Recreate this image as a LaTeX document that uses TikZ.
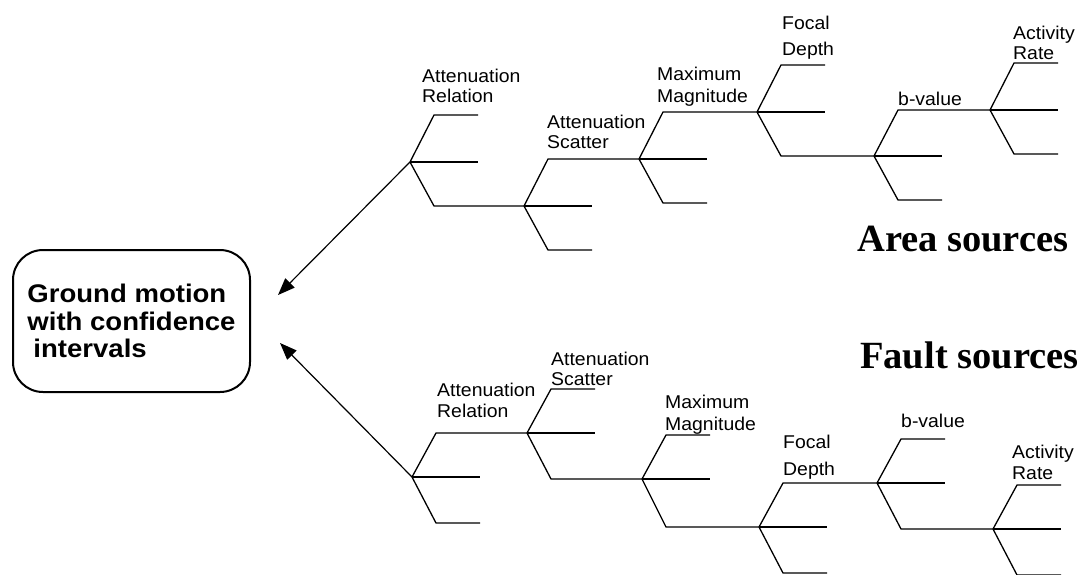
\documentclass[tikz,border=0pt]{standalone}
\usepackage{fontspec}
\setmainfont{Liberation Sans}
\newfontfamily\labelfont{Liberation Sans}[FakeStretch=1.05]
\newfontfamily\boxfont{Liberation Sans}[FakeStretch=1.08]
\newfontfamily\titlefont{Liberation Serif}
\usetikzlibrary{arrows.meta, calc, positioning}

\tikzset{
    branch/.style={line width=1.3pt},
    lbl/.style={font=\labelfont\fontsize{18.5}{19.5}\selectfont, align=left, anchor=north west, inner sep=0pt},
    srctitle/.style={font=\titlefont\bfseries\fontsize{38.5}{40}\selectfont, anchor=base west, inner sep=0pt},
    gmbox/.style={draw, line width=2pt, rounded corners=30pt, minimum width=237pt, minimum height=142pt,
        align=left, font=\boxfont\bfseries\fontsize{25.5}{27.5}\selectfont},
    toroot/.style={line width=1.2pt, -{Triangle[length=17pt, width=13pt]}}
}

\begin{document}
\begin{tikzpicture}[x=1pt, y=-1pt]
        \useasboundingbox (0,0) rectangle (1083,574);
        \clip (0,0) rectangle (1083,574);

        \node[gmbox] (gm) at (131.5,321) {Ground motion\\with confidence\\\hspace*{6pt}intervals};

        % area sources
        \coordinate (a1) at (410,162);
        \coordinate (a2) at (524,206);
        \coordinate (a3) at (639,159);
        \coordinate (a4) at (757,112);
        \coordinate (a5) at (874,156);
        \coordinate (a6) at (990,110);
        \foreach \f in {a1,a2,a3,a4,a5,a6} \draw[branch] (\f) -- ++(68,0);
        \foreach \f in {a1,a4,a6} \draw[branch] (\f) -- ++(24,-47) -- ++(44,0);
        \foreach \f in {a2,a3,a5,a6} \draw[branch] (\f) -- ++(24,44) -- ++(44,0);
        \foreach \f/\g in {a1/a2,a2/a3,a3/a4,a4/a5,a5/a6}
            \draw[branch] (\f) -- ($(\f |- \g)+(24,0)$) -- (\g);

        \node[lbl] (relA) at (422,69) {Attenuation\\Relation};
        \node[lbl] (scatA) at (547,115) {Attenuation\\Scatter};
        \node[lbl] (magA) at (657,67) {Maximum\\[2.5pt]Magnitude};
        \node[lbl] (depthA) at (782,16) {Focal\\[6.5pt]Depth};
        \node[lbl] (bvalA) at (898,92) {b-value};
        \node[lbl] (rateA) at (1013,26) {Activity\\Rate};
        \node[srctitle] (area) at (857,251) {Area sources};

        % fault sources
        \coordinate (b1) at (412,477);
        \coordinate (b2) at (527,433);
        \coordinate (b3) at (642,479);
        \coordinate (b4) at (759,527);
        \coordinate (b5) at (877,483);
        \coordinate (b6) at (993,529);
        \foreach \f in {b1,b2,b3,b4,b5,b6} \draw[branch] (\f) -- ++(68,0);
        \foreach \f in {b2,b3,b5,b6} \draw[branch] (\f) -- ++(24,-44) -- ++(44,0);
        \foreach \f in {b1,b4,b6} \draw[branch] (\f) -- ++(24,46) -- ++(44,0);
        \foreach \f/\g in {b1/b2,b2/b3,b3/b4,b4/b5,b5/b6}
            \draw[branch] (\f) -- ($(\f |- \g)+(24,0)$) -- (\g);

        \node[lbl] (relF) at (437,383) {Attenuation\\[1.5pt]Relation};
        \node[lbl] (scatF) at (551,352) {Attenuation\\Scatter};
        \node[lbl] (magF) at (665,395) {Maximum\\[2.5pt]Magnitude};
        \node[lbl] (depthF) at (783,435) {Focal\\[7pt]Depth};
        \node[lbl] (bvalF) at (901,414) {b-value};
        \node[lbl] (rateF) at (1012,445) {Activity\\[1pt]Rate};
        \node[srctitle] (fault) at (860,368) {Fault sources};

        % into the result
        \coordinate (tipA) at ([shift={(27,-26)}]gm.east);
        \coordinate (tipF) at ([shift={(29,22)}]gm.east);
        \draw[toroot] (a1) -- (tipA);
        \draw[toroot] (b1) -- (tipF);
\end{tikzpicture}
\end{document}
